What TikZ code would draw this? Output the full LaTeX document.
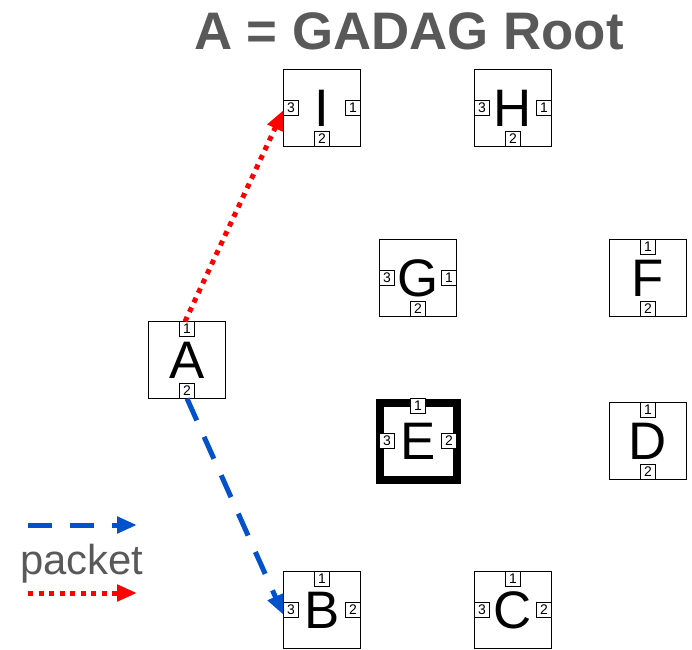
\documentclass[tikz,border=0pt]{standalone}
\usepackage{fontspec}
\setmainfont{Liberation Sans}
\usetikzlibrary{arrows.meta}
\definecolor{titlegray}{RGB}{89,89,89}
\definecolor{pktblue}{RGB}{0,82,204}
\definecolor{pktred}{RGB}{255,0,0}
\tikzset{
  router/.style={draw, line width=1.5bp, minimum size=77bp, inner sep=0pt, outer sep=0pt,
    font=\fontsize{53}{60}\selectfont},
  rootrouter/.style={router, line width=8bp},
  portbox/.style={draw, fill=white, line width=1bp, minimum size=15bp, inner sep=0pt, outer sep=0pt,
    font=\fontsize{14}{15}\selectfont},
  bluepkt/.style={draw=pktblue, line width=5bp, dash pattern=on 24bp off 18bp,
    -{Triangle[length=20bp,width=16bp]}, pktblue},
  redpkt/.style={draw=pktred, line width=5bp, dash pattern=on 5bp off 5.5bp,
    -{Triangle[length=20bp,width=16bp]}, pktred},
}
\begin{document}
\begin{tikzpicture}[x=1bp,y=-1bp]
\useasboundingbox (0,0) rectangle (692,650);

\node[font=\fontsize{53}{60}\selectfont\bfseries, text=titlegray, anchor=base] (title) at (409,50) {A = GADAG Root};

% routers
\node[router] (I) at (322,108) {I};
\node[router] (H) at (513,108) {H};
\node[router] (G) at (418,278) {G};
\node[router] (F) at (648,278) {F};
\node[router] (A) at (187,360) {A};
\node[rootrouter] (E) at (418,441) {E};
\node[router] (D) at (648,441) {D};
\node[router] (B) at (322,610) {B};
\node[router] (C) at (513,610) {C};

% ports
\node[portbox, anchor=west]  (I3) at (I.west)  {3};
\node[portbox, anchor=east]  (I1) at (I.east)  {1};
\node[portbox, anchor=south] (I2) at (I.south) {2};

\node[portbox, anchor=west]  (H3) at (H.west)  {3};
\node[portbox, anchor=east]  (H1) at (H.east)  {1};
\node[portbox, anchor=south] (H2) at (H.south) {2};

\node[portbox, anchor=west]  (G3) at (G.west)  {3};
\node[portbox, anchor=east]  (G1) at (G.east)  {1};
\node[portbox, anchor=south] (G2) at (G.south) {2};

\node[portbox, anchor=north] (F1) at (F.north) {1};
\node[portbox, anchor=south] (F2) at (F.south) {2};

\node[portbox, anchor=north] (A1) at (A.north) {1};
\node[portbox, anchor=south] (A2) at (A.south) {2};

\node[portbox, anchor=north] (E1) at ([yshift=4bp]E.north) {1};
\node[portbox, anchor=west]  (E3) at (E.west)  {3};
\node[portbox, anchor=east]  (E2) at (E.east)  {2};

\node[portbox, anchor=north] (D1) at (D.north) {1};
\node[portbox, anchor=south] (D2) at (D.south) {2};

\node[portbox, anchor=north] (B1) at (B.north) {1};
\node[portbox, anchor=west]  (B3) at (B.west)  {3};
\node[portbox, anchor=east]  (B2) at (B.east)  {2};

\node[portbox, anchor=north] (C1) at (C.north) {1};
\node[portbox, anchor=west]  (C3) at (C.west)  {3};
\node[portbox, anchor=east]  (C2) at (C.east)  {2};

% packets
\draw[redpkt] ([xshift=-2bp]A.north) -- ([yshift=-2bp]I.west);
\draw[bluepkt] (A.south) -- ([yshift=-5bp]B.west);

% legend
\coordinate (lb1) at (28,525);
\coordinate (lb2) at (137,525);
\coordinate (lr1) at (28,593);
\coordinate (lr2) at (137,593);
\draw[bluepkt] (lb1) -- (lb2);
\draw[redpkt] (lr1) -- (lr2);
\node[font=\fontsize{42}{48}\selectfont, text=titlegray, anchor=base] (pkt) at (82,574) {packet};
\end{tikzpicture}
\end{document}
